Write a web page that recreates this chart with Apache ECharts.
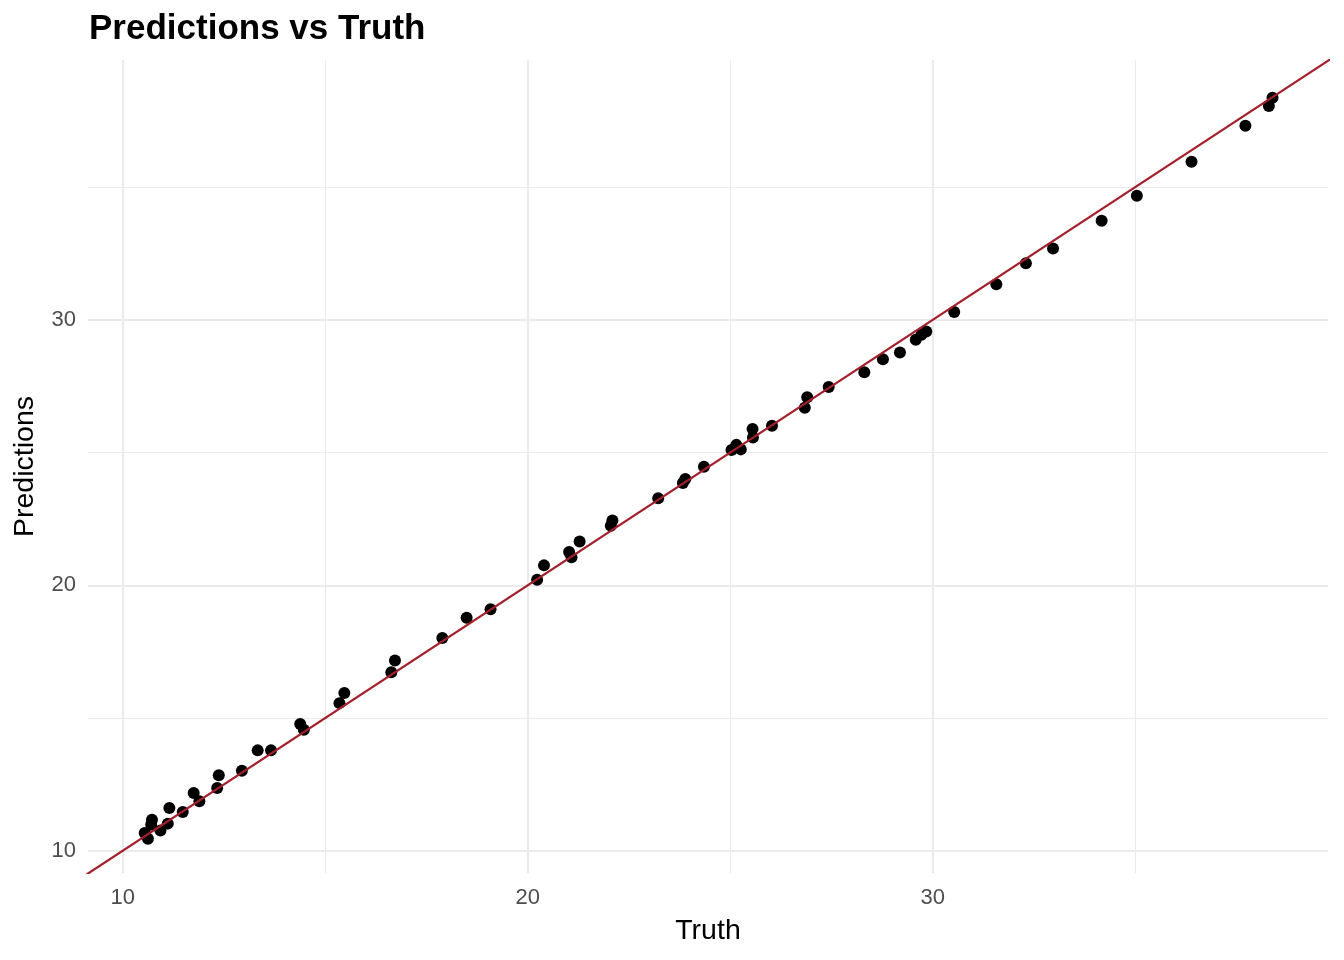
<!DOCTYPE html>
<html>
<head>
<meta charset="utf-8">
<script src="https://cdn.jsdelivr.net/npm/echarts@6/dist/echarts.min.js"></script>
<style>html,body{margin:0;padding:0;background:#fff}#c{width:1344px;height:960px}</style>
</head>
<body>
<div id="c"></div>
<script>
const truth = [10.54,10.62,10.72,10.70,10.93,11.11,11.15,11.48,11.75,11.89,12.37,12.33,12.94,13.33,13.66,14.38,14.47,15.35,15.47,16.63,16.72,17.89,18.49,19.08,20.23,20.40,21.02,21.08,21.28,22.05,22.09,23.22,23.83,23.89,24.35,25.03,25.15,25.26,25.55,25.56,26.03,26.84,26.90,27.43,28.31,28.77,29.19,29.58,29.72,29.84,30.53,31.57,32.30,32.97,34.17,35.04,36.39,37.72,38.30,38.39];
const predictions = [10.67,10.45,11.17,10.98,10.76,11.02,11.61,11.46,12.17,11.86,12.84,12.36,13.01,13.78,13.78,14.77,14.56,15.56,15.94,16.72,17.17,18.01,18.78,19.10,20.21,20.75,21.25,21.06,21.65,22.24,22.44,23.28,23.85,24.00,24.47,25.10,25.29,25.12,25.89,25.57,26.01,26.69,27.08,27.47,28.03,28.52,28.77,29.25,29.44,29.56,30.30,31.34,32.13,32.69,33.73,34.68,35.96,37.31,38.06,38.37];
const majorTicks = [10, 20, 30];
const minorTicks = [15, 25, 35];
const identityLine = [[9, 9], [41, 41]];
const xRange = [9.14, 39.76];
const yRange = [9.16, 39.79];

const points = truth.map((t, i) => [t, predictions[i]]);
const FONT = '"Liberation Sans", Arial, Helvetica, sans-serif';

function makeAxis(range, ticks, isMajor, extra) {
  return Object.assign({
    type: 'value',
    min: range[0],
    max: range[1],
    axisLine: { show: false },
    axisTick: { show: false, customValues: ticks },
    axisLabel: isMajor
      ? { show: true, customValues: ticks, color: '#4D4D4D', fontSize: 22, fontFamily: FONT }
      : { show: false },
    splitLine: {
      show: true,
      showMinLine: true,
      showMaxLine: true,
      lineStyle: { color: '#EBEBEB', width: isMajor ? 2.2 : 1.1 }
    }
  }, extra);
}

const chart = echarts.init(document.getElementById('c'), null, { renderer: 'canvas' });
chart.setOption({
  backgroundColor: '#ffffff',
  animation: false,
  title: {
    text: 'Predictions vs Truth',
    left: 89,
    top: 12,
    padding: 0,
    textStyle: { fontFamily: FONT, fontWeight: 'bold', fontSize: 35, color: '#000000' }
  },
  grid: { left: 88, right: 16, top: 60, bottom: 87, containLabel: false, outerBoundsMode: 'none' },
  xAxis: [
    makeAxis(xRange, majorTicks, true, {
      name: 'Truth', nameLocation: 'middle', nameGap: 44,
      nameTextStyle: { fontFamily: FONT, fontSize: 28.5, color: '#000000' },
      axisLabel: { show: true, customValues: majorTicks, color: '#4D4D4D', fontSize: 22, fontFamily: FONT, margin: 14 }
    }),
    makeAxis(xRange, minorTicks, false, {})
  ],
  yAxis: [
    makeAxis(yRange, majorTicks, true, {
      name: 'Predictions', nameLocation: 'middle', nameGap: 48,
      nameTextStyle: { fontFamily: FONT, fontSize: 28.5, color: '#000000' },
      axisLabel: { show: true, customValues: majorTicks, color: '#4D4D4D', fontSize: 22, fontFamily: FONT, margin: 12 }
    }),
    makeAxis(yRange, minorTicks, false, {})
  ],
  series: [
    {
      type: 'scatter',
      xAxisIndex: 0, yAxisIndex: 0,
      data: points,
      symbol: 'circle',
      symbolSize: 12,
      itemStyle: { color: '#000000', opacity: 1 },
      z: 3
    },
    {
      type: 'line',
      xAxisIndex: 0, yAxisIndex: 0,
      data: identityLine,
      symbol: 'none',
      clip: true,
      lineStyle: { color: '#A31F2B', width: 2.2 },
      z: 4
    }
  ]
});
</script>
</body>
</html>
